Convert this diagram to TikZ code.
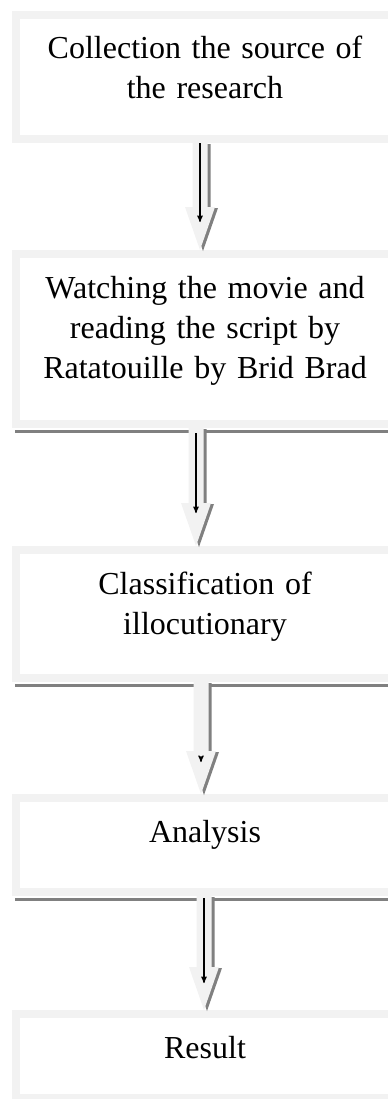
\documentclass[tikz,border=0pt]{standalone}
\usepackage{fontspec}
\setmainfont{Liberation Serif}
\usepackage{tikz}
\usetikzlibrary{arrows,positioning}

\definecolor{boxgray}{RGB}{242,242,242}
\definecolor{shadegray}{RGB}{128,128,128}

\begin{document}
\begin{tikzpicture}[>=stealth',
    box/.style={draw=boxgray,line width=6pt,fill=white,minimum width=283.5pt,inner sep=0pt},
    boxtext/.style={font=\fontsize{24pt}{30pt}\selectfont,align=center,text width=270pt,inner sep=0pt},
    boxshade/.style={draw=shadegray,line width=2.25pt},
    arrowbody/.style={fill=boxgray},
    arrowshade/.style={fill=shadegray,transform canvas={shift={(2.25pt,-0.75pt)}}},
    thin arrow/.style={->,line width=0.8pt}]
    \useasboundingbox (0,0) rectangle (290.25pt,-824.25pt);

    % boxes
    \node[box,minimum height=93pt,anchor=north] (b1) at (153.75pt,-8.25pt) {};
    \node[box,minimum height=127.5pt] (b2) [below=80.25pt of b1] {};
    \node[box,minimum height=96pt] (b3) [below=88.5pt of b2] {};
    \node[box,minimum height=70.5pt] (b4) [below=84pt of b3] {};
    \node[box,minimum height=63pt] (b5) [below=85.5pt of b4] {};

    % texts
    \node[boxtext,anchor=base] (t1) at ([yshift=-36pt]b1.north) {Collection the source of\\the research};
    \node[boxtext,anchor=base] (t2) at ([yshift=-36pt]b2.north) {Watching the movie and\\reading the script by\\Ratatouille by Brid Brad};
    \node[boxtext,anchor=base] (t3) at ([yshift=-36pt]b3.north) {Classification of\\illocutionary};
    \node[boxtext,anchor=base] (t4) at ([yshift=-36pt]b4.north) {Analysis};
    \node[boxtext,anchor=base] (t5) at ([yshift=-36pt]b5.north) {Result};

    % shadows under boxes
    \foreach \b in {b2,b3,b4}
      \draw[boxshade] ([xshift=2.25pt,yshift=-2.6pt]\b.south west) -- ([xshift=2.25pt,yshift=-2.6pt]\b.south east);

    % block arrows
    \foreach \up/\down/\dx/\ls/\le in {b1/b2/-3.75/0/59.25, b2/b3/-6.75/3.75/63.75, b3/b4/-3/56.25/60, b4/b5/-0.75/1.5/65.25} {
      \coordinate (s) at ([xshift=\dx pt]\up.south);
      \coordinate (e) at ([xshift=\dx pt]\down.north);
      \path[save path=\blockarrow] ([xshift=-5.625pt]s) -- ([xshift=-5.625pt,yshift=32.25pt]e)
        -- ([xshift=-11.25pt,yshift=32.25pt]e) -- (e) -- ([xshift=11.25pt,yshift=32.25pt]e)
        -- ([xshift=5.625pt,yshift=32.25pt]e) -- ([xshift=5.625pt]s) -- cycle;
      \fill[arrowshade,use path=\blockarrow];
      \fill[arrowbody,use path=\blockarrow];
      \draw[thin arrow] ([yshift=-\ls pt]s) -- ([yshift=-\le pt]s);
    }
\end{tikzpicture}
\end{document}
